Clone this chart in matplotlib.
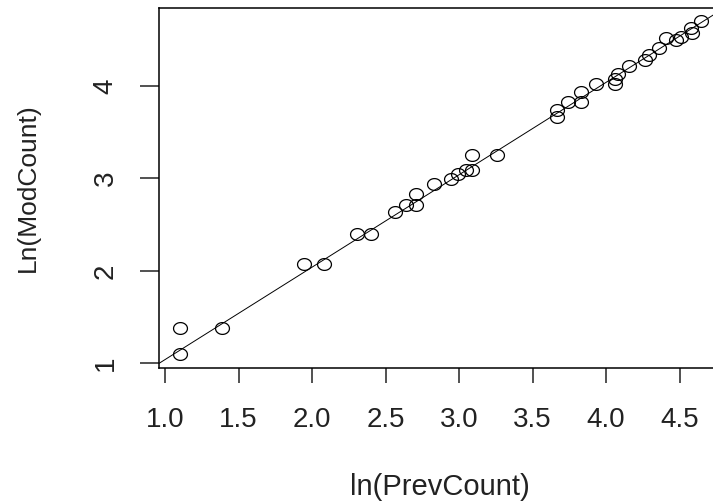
import numpy as np
import matplotlib
matplotlib.use("Agg")
import matplotlib.pyplot as plt
from matplotlib.path import Path

plt.rcParams['font.family'] = ['Liberation Sans', 'DejaVu Sans']

# values (natural logs of counts)
prev_log = [1.099, 1.099, 1.386, 1.946, 2.079, 2.303, 2.398, 2.565, 2.639, 2.708,
            2.708, 2.833, 2.944, 2.996, 3.045, 3.091, 3.091, 3.258, 3.664, 3.664,
            3.738, 3.829, 3.829, 3.932, 4.060, 4.060, 4.078, 4.159, 4.263, 4.290,
            4.357, 4.407, 4.477, 4.511, 4.575, 4.585, 4.644]
mod_log = [1.099, 1.386, 1.386, 2.079, 2.079, 2.398, 2.398, 2.639, 2.708, 2.833,
           2.708, 2.944, 2.996, 3.045, 3.091, 3.091, 3.258, 3.258, 3.664, 3.738,
           3.829, 3.932, 3.829, 4.025, 4.025, 4.078, 4.127, 4.220, 4.277, 4.331,
           4.407, 4.522, 4.500, 4.533, 4.625, 4.575, 4.700]
fit_intercept = 0.04
fit_slope = 1.0

xticks = [1.0, 1.5, 2.0, 2.5, 3.0, 3.5, 4.0, 4.5]
yticks = [1, 2, 3, 4]

# the source image is a bit stretched sideways, so use slightly wide circles
t = np.linspace(0, 2 * np.pi, 60)
ring = Path(np.column_stack([np.cos(t), 0.85 * np.sin(t)]), closed=True)

fig = plt.figure(figsize=(7.13, 5.04), dpi=100)
W, H = 713, 504
ax = fig.add_axes([159 / W, 136 / H, (721 - 159) / W, (368 - 8) / H])

ax.axline((0, fit_intercept), slope=fit_slope, color='black', lw=0.7)
ax.plot(prev_log, mod_log, linestyle='none', marker=ring, markersize=10,
        markerfacecolor='none', markeredgecolor='black', markeredgewidth=0.9)

ax.set_xlim(0.959, 4.782)
ax.set_ylim(0.949, 4.845)
ax.set_xticks(xticks)
ax.set_xticklabels([f"{v:.1f}" for v in xticks])
ax.set_yticks(yticks)
ax.set_yticklabels([str(v) for v in yticks], rotation=90, va='center')

for s in ax.spines.values():
    s.set_linewidth(1.1)
    s.set_color('black')
ax.spines['right'].set_visible(False)

ax.tick_params(axis='x', length=11, width=1.1, pad=17, labelsize=20, colors='#222222')
ax.tick_params(axis='y', length=13.5, width=1.1, pad=15.5, labelsize=20, colors='#222222')

fig.text(440 / W, 1 - 487 / H, 'ln(PrevCount)', ha='center', va='center',
         fontsize=21, color='#222222')
fig.text(28 / W, 1 - 188 / H, 'Ln(ModCount)', ha='center', va='center',
         rotation=90, fontsize=19, color='#222222')

fig.savefig('out.png', dpi=100)
